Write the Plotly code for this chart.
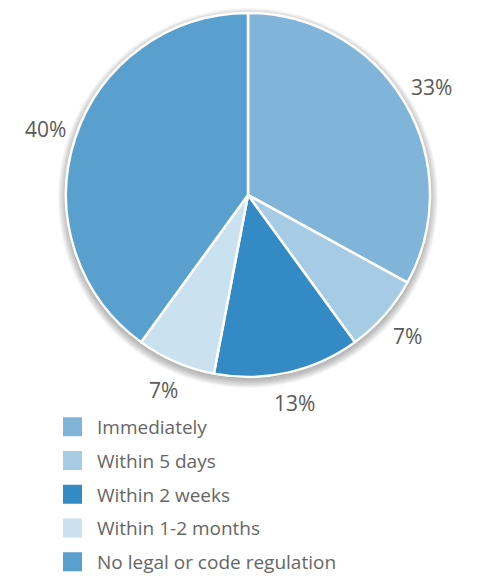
import math
import plotly.graph_objects as go

categories = ["Immediately", "Within 5 days", "Within 2 weeks", "Within 1-2 months", "No legal or code regulation"]
values = [33, 7, 13, 7, 40]
colors = ["#80b4d8", "#a6cce5", "#348ac4", "#cae1f0", "#5aa0cf"]

W, H = 480, 578
OFF = 8  # page body margin
cx, cy, r = 248 - OFF, 195 - OFF, 182
label_r = 213
FONT = "Open Sans"

fig = go.Figure()

# soft blurred shadow around the pie, slightly lower
for k in range(8, 0, -1):
    rr = r + k
    fig.add_shape(type="circle", xref="paper", yref="paper", layer="below",
                  x0=(cx - rr) / W, x1=(cx + rr) / W,
                  y0=1 - (cy + 3 + rr) / H, y1=1 - (cy + 3 - rr) / H,
                  fillcolor="black", opacity=0.035, line=dict(width=0))
fig.add_shape(type="circle", xref="paper", yref="paper", layer="below",
              x0=(cx - r - 1) / W, x1=(cx + r + 1) / W,
              y0=1 - (cy + r + 1.5) / H, y1=1 - (cy - r + 0.5) / H,
              fillcolor="#8a8a8a", line=dict(width=0))

fig.add_trace(go.Pie(
    labels=categories, values=values, sort=False, direction="clockwise", rotation=0,
    marker=dict(colors=colors, line=dict(color="white", width=2.5)),
    textinfo="none",
    domain=dict(x=[(cx - r) / W, (cx + r) / W], y=[1 - (cy + r) / H, 1 - (cy - r) / H]),
    showlegend=False, hoverinfo="label+percent",
))

# outside percentage labels at slice mid-angles
total = sum(values)
cum = 0
for v in values:
    mid = (cum + v / 2) / total * 2 * math.pi
    cum += v
    x = cx + label_r * math.sin(mid)
    y = cy - label_r * math.cos(mid)
    fig.add_annotation(x=x / W, y=1 - y / H, xref="paper", yref="paper",
                       xanchor="center", yanchor="middle",
                       text=f"{v}%", showarrow=False,
                       font=dict(size=21, color="#5a5a5a", family=FONT))

# legend entries
for i, (c, col) in enumerate(zip(categories, colors)):
    fig.add_trace(go.Scatter(
        x=[None], y=[None], mode="markers", name=c, legendgroup=f"g{i}",
        marker=dict(symbol="square", size=16, color=col, line=dict(color=col, width=3)),
        hoverinfo="skip",
    ))

fig.update_layout(
    width=W, height=H, margin=dict(l=0, r=0, t=0, b=0),
    paper_bgcolor="white", plot_bgcolor="white",
    xaxis=dict(visible=False), yaxis=dict(visible=False),
    legend=dict(x=40 / W, y=1 - 400 / H, xanchor="left", yanchor="top",
                font=dict(size=19, color="#666666", family=FONT),
                traceorder="grouped", itemwidth=39, tracegroupgap=6,
                bgcolor="rgba(0,0,0,0)"),
)
fig.write_html("out.html")
